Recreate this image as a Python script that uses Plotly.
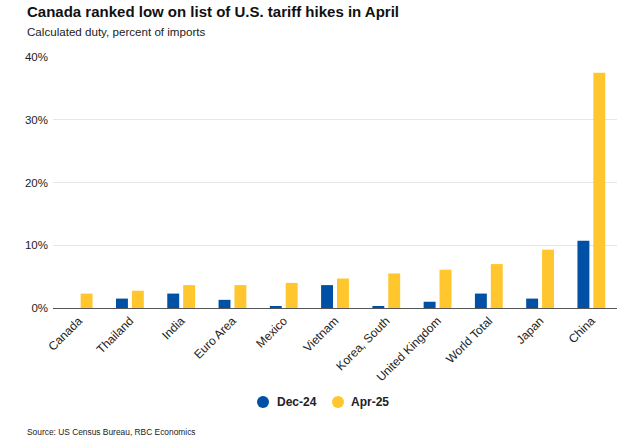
import plotly.graph_objects as go

categories = ["Canada", "Thailand", "India", "Euro Area", "Mexico", "Vietnam",
              "Korea, South", "United Kingdom", "World Total", "Japan", "China"]
dec24 = [0.0, 1.5, 2.3, 1.3, 0.2, 3.65, 0.2, 1.0, 2.3, 1.5, 10.7]
apr25 = [2.3, 2.75, 3.65, 3.65, 4.0, 4.7, 5.5, 6.1, 7.0, 9.3, 37.5]
series_names = ["Dec-24", "Apr-25"]

BLUE = "#0050A5"
YELLOW = "#FFC62D"
FONT = "Liberation Sans, Arial, sans-serif"

fig = go.Figure()
fig.add_trace(go.Bar(x=categories, y=dec24, name=series_names[0], marker_color=BLUE,
                     marker_line_width=0))
fig.add_trace(go.Bar(x=categories, y=apr25, name=series_names[1], marker_color=YELLOW,
                     marker_line_width=0))

W, H = 624, 444
L, R, T, B = 53, 7, 57, 136
PW, PH = W - L - R, H - T - B


def px(x):
    return (x - L) / PW


def py(y):
    return (H - B - y) / PH


LEG_Y = 402
legend_pos = [(263, 275), (338, 349)]
legend_colors = [BLUE, YELLOW]
legend_shapes = []
legend_texts = []
for (cx, tx), col, name in zip(legend_pos, legend_colors, series_names):
    legend_shapes.append(dict(type="circle", xref="paper", yref="paper",
                              xsizemode="pixel", ysizemode="pixel",
                              xanchor=px(cx), yanchor=py(LEG_Y),
                              x0=-6, x1=6, y0=-6, y1=6,
                              fillcolor=col, line_width=0))
    legend_texts.append(dict(text=f"<b>{name}</b>", xref="paper", yref="paper",
                             x=px(tx), y=py(LEG_Y), xanchor="left", yanchor="middle",
                             showarrow=False, font=dict(size=12, color="#222222", family=FONT)))

fig.update_layout(
    width=W, height=H,
    margin=dict(l=L, r=R, t=T, b=B),
    paper_bgcolor="white", plot_bgcolor="white",
    font=dict(family=FONT, color="#222222", size=11),
    barmode="group", bargap=0.38, bargroupgap=0.25,
    showlegend=False,
    shapes=legend_shapes,
    annotations=[
        dict(text="<b>Canada ranked low on list of U.S. tariff hikes in April</b>",
             xref="paper", yref="paper", x=px(25), y=py(12), xanchor="left", yanchor="middle",
             showarrow=False, font=dict(size=15, color="#111111", family=FONT)),
        dict(text="Calculated duty, percent of imports",
             xref="paper", yref="paper", x=px(25), y=py(31), xanchor="left", yanchor="middle",
             showarrow=False, font=dict(size=11.6, color="#222222", family=FONT)),
        dict(text="Source: US Census Bureau, RBC Economics",
             xref="paper", yref="paper", x=px(25), y=py(432), xanchor="left", yanchor="middle",
             showarrow=False, font=dict(size=8.4, color="#222222", family=FONT)),
    ] + legend_texts,
)
fig.update_xaxes(tickangle=-45, showgrid=False, showline=True, linecolor="#555555", linewidth=1.2,
                 ticks="", tickfont=dict(size=12, color="#222222"))
fig.update_yaxes(range=[0, 40], dtick=10, ticksuffix="%", showgrid=True, gridcolor="#E6E6E6",
                 gridwidth=1, zeroline=False, ticks="", ticklabelstandoff=4,
                 tickfont=dict(size=11.5, color="#222222"))

fig.write_html("out.html", config={"displayModeBar": False},
               post_script="document.body.style.margin='0';")
